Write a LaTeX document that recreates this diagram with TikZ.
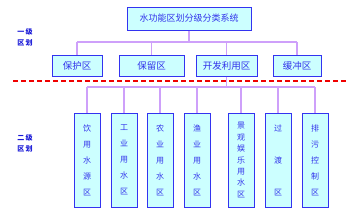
\documentclass[tikz,border=0pt]{standalone}
\usepackage{fontspec}
\newfontfamily\cjk{Noto Sans CJK SC}
\usepackage{xcolor}
\usepackage{tikz}
\usetikzlibrary{positioning, calc}

\definecolor{boxfill}{RGB}{204,255,255}
\definecolor{boxline}{RGB}{51,51,240}
\definecolor{boxtext}{RGB}{50,50,235}
\definecolor{linkcol}{RGB}{206,160,250}
\definecolor{labcol}{RGB}{25,25,215}
\definecolor{sepcol}{RGB}{240,0,0}

\begin{document}
\begin{tikzpicture}[
  x=1pt, y=-1pt,
  sysbox/.style={rectangle, draw=boxline, fill=boxfill, line width=1pt,
                 minimum height=23pt, minimum width=124pt, align=center,
                 font=\cjk\fontsize{9}{10}\selectfont, text=boxtext, inner sep=0pt},
  onebox/.style={rectangle, draw=boxline, fill=boxfill, line width=1pt,
                 minimum height=21pt, align=center,
                 font=\cjk\fontsize{9.5}{10}\selectfont, text=boxtext, inner sep=0pt},
  twobox/.style={rectangle, draw=boxline, fill=boxfill, line width=1pt,
                 minimum height=94pt, minimum width=26pt, align=center,
                 text=boxtext, inner sep=0pt},
  lvl/.style={align=left, font=\cjk\bfseries\fontsize{7}{11}\selectfont,
              text=labcol, inner sep=0pt},
  link/.style={draw=linkcol, line width=1.3pt},
  sep/.style={draw=sepcol, line width=1.2pt, dash pattern=on 5pt off 3pt},
]
\useasboundingbox (0,0) rectangle (350,218);

% top
\node[sysbox] at (189, 18.5) (sys) {水功能区划分级分类系统};

% first level
\node[onebox, minimum width=50pt] at (77, 65.5)    (prot) {保护区};
\node[onebox, minimum width=65pt] at (151.5, 65.5) (resv) {保留区};
\node[onebox, minimum width=61pt] at (226.5, 65.5) (dev)  {开发利用区};
\node[onebox, minimum width=48pt] at (297, 65.5)   (buf)  {缓冲区};

\node[lvl] at (25, 37.5)  (lvlone) {一\hspace{1.5pt}级\\区\hspace{1.5pt}划};
\node[lvl] at (25, 143)   (lvltwo) {二\hspace{1.5pt}级\\区\hspace{1.5pt}划};

% second level
\foreach \nm/\xx/\txt/\sk in {drink/87/饮\\用\\水\\源\\区/16,
                              indus/124/工\\业\\用\\水\\区/16,
                              agri/160/农\\业\\用\\水\\区/16,
                              fish/197/渔\\业\\用\\水\\区/16,
                              scene/241/景\\观\\娱\\乐\\用\\水\\区/11.4,
                              trans/278/过\\渡\\区/32,
                              drain/315/排\\污\\控\\制\\区/16}
  \node[twobox, font=\cjk\fontsize{8}{\sk}\selectfont] at (\xx, 160) (\nm) {\txt};

% separator
\coordinate (sepl) at (13, 81);
\coordinate (sepr) at (346, 81);
\draw[sep] (sepl) -- (sepr);

% connectors
\coordinate (busone) at (0, 42);
\coordinate (bustwo) at (0, 87);
\draw[link] (sys.south) -- (sys.south |- busone);
\draw[link] (prot.north |- busone) -- (buf.north |- busone);
\foreach \nm in {prot, resv, dev, buf}
  \draw[link] (\nm.north) -- (\nm.north |- busone);
\draw[link] (dev.south) -- (dev.south |- bustwo);
\draw[link] (drink.north |- bustwo) -- (drain.north |- bustwo);
\foreach \nm in {drink, indus, agri, fish, scene, trans, drain}
  \draw[link] (\nm.north) -- (\nm.north |- bustwo);
\end{tikzpicture}
\end{document}
